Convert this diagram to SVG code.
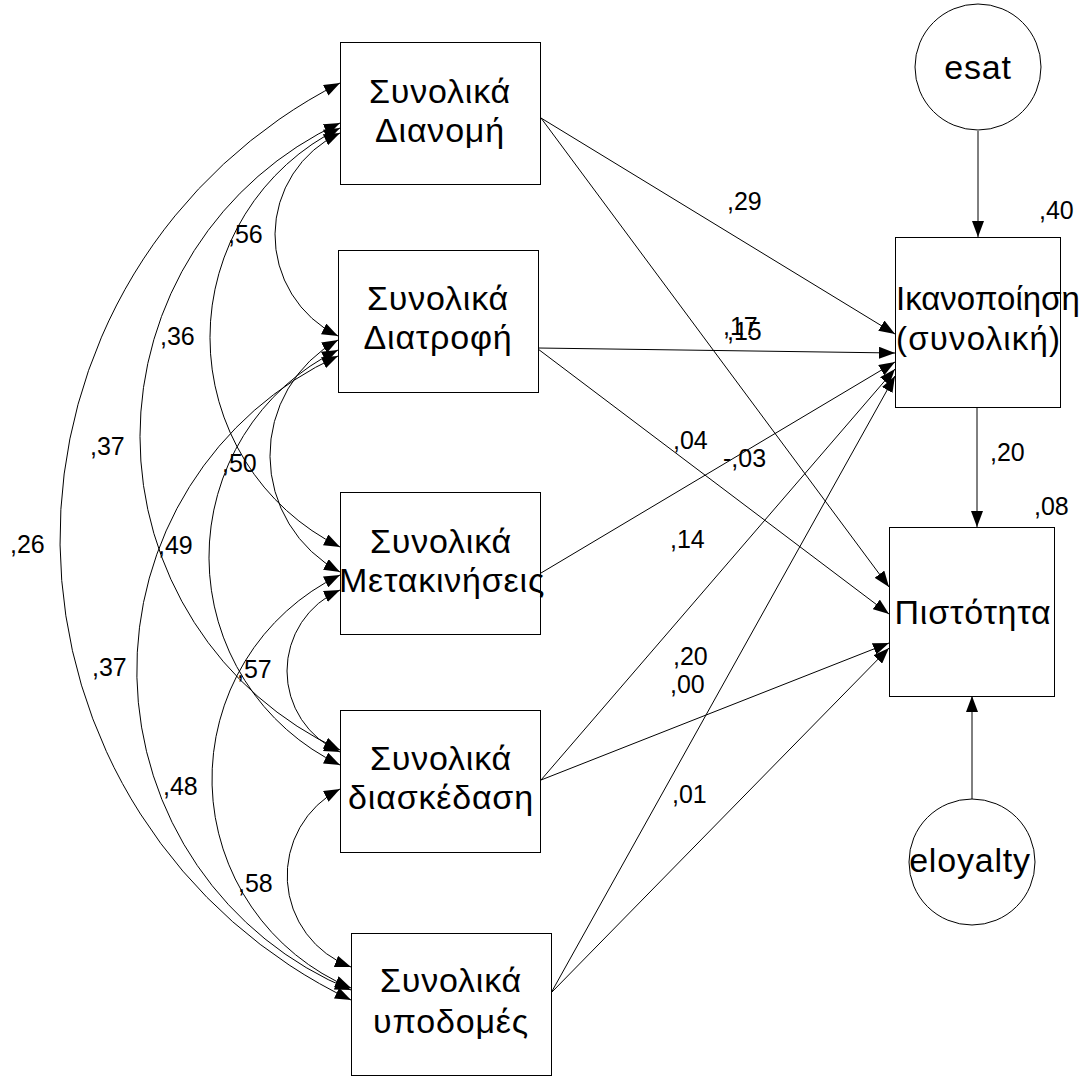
<svg xmlns="http://www.w3.org/2000/svg" width="1083" height="1076" viewBox="0 0 1083 1076">
  <style>
    .box { fill: #ffffff; stroke: #000000; stroke-width: 1; }
    .txt { font-family: "Liberation Sans", Arial, sans-serif; font-size: 34px; letter-spacing: 0.8px; fill: #000000; text-anchor: middle; }
    .txl { font-family: "Liberation Sans", Arial, sans-serif; font-size: 33px; fill: #000000; }
    .lbl { font-family: "Liberation Sans", Arial, sans-serif; font-size: 25px; fill: #000000; }
    .path { fill: none; stroke: #000000; stroke-width: 1; marker-end: url(#ah); }
    .cov { fill: none; stroke: #000000; stroke-width: 1; marker-start: url(#ah); marker-end: url(#ah); }
  </style>
  <defs>
    <marker id="ah" viewBox="0 0 16 12" refX="16" refY="6" markerWidth="16" markerHeight="12" markerUnits="userSpaceOnUse" orient="auto-start-reverse">
      <path d="M0,0 L16,6 L0,12 z" fill="#000000"/>
    </marker>
  </defs>
  <rect width="1083" height="1076" fill="#ffffff"/>

  <!-- connectors: regression paths and covariances -->
  <g id="connectors">
    <!-- covariances among the five exogenous variables -->
    <path class="cov" d="M340,133 A112.5,112.5 0 0 0 338,336"/>
    <path class="cov" d="M340,128 A233.8,233.8 0 0 0 340,547"/>
    <path class="cov" d="M340,123 A345.7,345.7 0 0 0 340,750"/>
    <path class="cov" d="M340,83 A511,511 0 0 0 351,1000"/>
    <path class="cov" d="M338,340 A132,132 0 0 0 340,572"/>
    <path class="cov" d="M338,350 A230.6,230.6 0 0 0 340,765"/>
    <path class="cov" d="M338,356 A345.9,345.9 0 0 0 351,990"/>
    <path class="cov" d="M340,590 A88.4,88.4 0 0 0 340,752"/>
    <path class="cov" d="M340,575 A226.6,226.6 0 0 0 351,988"/>
    <path class="cov" d="M340,789 A97.4,97.4 0 0 0 351,967"/>

    <!-- regression paths -->
    <path class="path" d="M541,118 L895,334"/>
    <path class="path" d="M541,118 L889,587"/>
    <path class="path" d="M538,348 L895,353"/>
    <path class="path" d="M538,349 L889,614"/>
    <path class="path" d="M541,573 L895,362"/>
    <path class="path" d="M541,780 L895,369"/>
    <path class="path" d="M541,780 L889,643"/>
    <path class="path" d="M551,993 L895,376"/>
    <path class="path" d="M551,993 L889,648"/>
    <path class="path" d="M978,131 L978,237"/>
    <path class="path" d="M977,407 L977,527"/>
    <path class="path" d="M972,799 L972,696"/>
  </g>

  <!-- coefficient labels -->
  <g id="labels">
    <text class="lbl" x="228" y="243">,56</text>
    <text class="lbl" x="160" y="345">,36</text>
    <text class="lbl" x="90" y="455">,37</text>
    <text class="lbl" x="222" y="472">,50</text>
    <text class="lbl" x="10" y="553">,26</text>
    <text class="lbl" x="158" y="554">,49</text>
    <text class="lbl" x="92" y="676">,37</text>
    <text class="lbl" x="237" y="678">,57</text>
    <text class="lbl" x="163" y="795">,48</text>
    <text class="lbl" x="238" y="892">,58</text>

    <text class="lbl" x="727" y="210">,29</text>
    <text class="lbl" x="723" y="335">,17</text>
    <text class="lbl" x="727" y="340">,15</text>
    <text class="lbl" x="673" y="449">,04</text>
    <text class="lbl" x="723" y="467">-,03</text>
    <text class="lbl" x="670" y="548">,14</text>
    <text class="lbl" x="673" y="665">,20</text>
    <text class="lbl" x="670" y="693">,00</text>
    <text class="lbl" x="672" y="803">,01</text>
    <text class="lbl" x="1039" y="219">,40</text>
    <text class="lbl" x="990" y="461">,20</text>
    <text class="lbl" x="1034" y="515">,08</text>
  </g>

  <!-- observed variables -->
  <g id="node-dianomi">
    <rect class="box" x="340.5" y="42.5" width="200" height="142"/>
    <text class="txt" x="440" y="103">Συνολικά</text>
    <text class="txt" x="440" y="142">Διανομή</text>
  </g>
  <g id="node-diatrofi">
    <rect class="box" x="338.5" y="250.5" width="200" height="142"/>
    <text class="txt" x="438" y="310">Συνολικά</text>
    <text class="txt" x="438" y="349">Διατροφή</text>
  </g>
  <g id="node-metakiniseis">
    <rect class="box" x="340.5" y="492.5" width="200" height="142"/>
    <text class="txt" x="441" y="553">Συνολικά</text>
    <text class="txt" x="442" y="592">Μετακινήσεις</text>
  </g>
  <g id="node-diaskedasi">
    <rect class="box" x="340.5" y="710.5" width="200" height="142"/>
    <text class="txt" x="441" y="770">Συνολικά</text>
    <text class="txt" x="441" y="809">διασκέδαση</text>
  </g>
  <g id="node-ypodomes">
    <rect class="box" x="351.5" y="933.5" width="200" height="142"/>
    <text class="txt" x="451" y="992">Συνολικά</text>
    <text class="txt" x="451" y="1033">υποδομές</text>
  </g>
  <g id="node-ikanopoiisi">
    <rect class="box" x="895.5" y="237.5" width="165" height="170"/>
    <text class="txl" x="896" y="310">Ικανοποίηση</text>
    <text class="txl" x="896" y="350" letter-spacing="1.2">(συνολική)</text>
  </g>
  <g id="node-pistotita">
    <rect class="box" x="889.5" y="527.5" width="165" height="169"/>
    <text class="txt" x="973" y="624">Πιστότητα</text>
  </g>

  <!-- error terms -->
  <g id="node-esat">
    <circle class="box" cx="978" cy="67" r="63"/>
    <text class="txt" x="978" y="79">esat</text>
  </g>
  <g id="node-eloyalty">
    <circle class="box" cx="972" cy="862" r="63"/>
    <text class="txt" x="970" y="872">eloyalty</text>
  </g>
</svg>
